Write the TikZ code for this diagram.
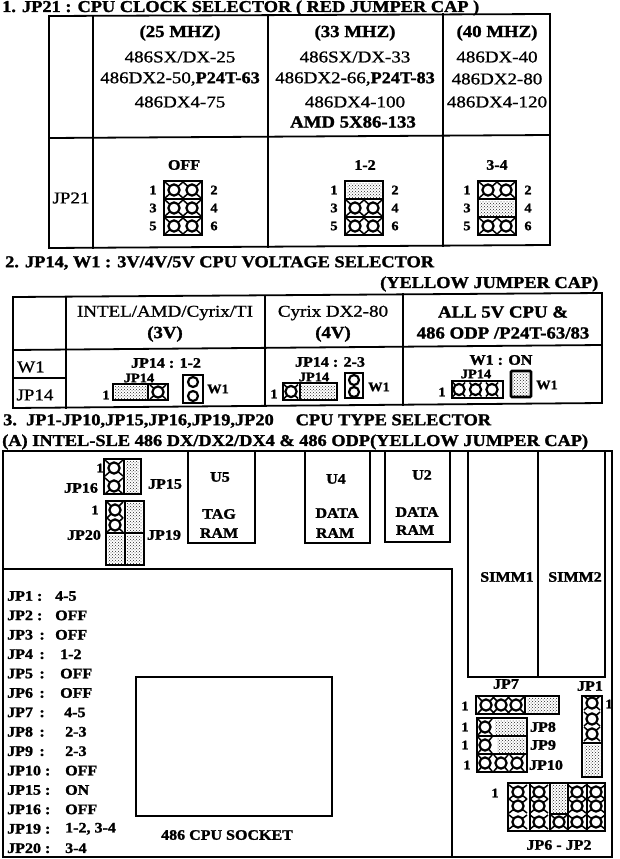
\documentclass[tikz,border=0pt]{standalone}
\usepackage{fontspec}
\usetikzlibrary{patterns}
\setmainfont{Liberation Serif}
\newfontfamily\hv[UprightFont=* Bold,FakeBold=1.5,FakeStretch=1.105]{Liberation Serif}
\newfontfamily\rg[FakeBold=1,FakeStretch=1.15]{Liberation Serif}
\tikzset{
  x=1pt,y=-1pt,
  rulestyle/.style={line width=1.8pt,black,line cap=rect},
  framestyle/.style={line width=2.2pt,black,line cap=rect},
  jbox/.style={line width=2.6pt,black},
  capfill/.style={pattern=crosshatch dots,pattern color=black!85},
  pincircle/.style={line width=2.2pt,draw=black,fill=white},
  headtext/.style={font=\hv\fontsize{16.6}{17}\selectfont,inner sep=0pt,anchor=west},
  celltext/.style={font=\rg\fontsize{16.5}{16.5}\selectfont,inner sep=0pt},
  boldcell/.style={font=\hv\fontsize{17}{17}\selectfont,inner sep=0pt},
  lab/.style={font=\hv\fontsize{14.5}{14.5}\selectfont,inner sep=0pt},
  pinno/.style={font=\hv\fontsize{13}{13}\selectfont,inner sep=0pt},
  smalltext/.style={font=\hv\fontsize{13}{13}\selectfont,inner sep=0pt},
  lst/.style={font=\hv\fontsize{14.5}{14.5}\selectfont,inner sep=0pt,anchor=west},
}
\newcommand{\onepin}[4]{%
  \draw[line width=1.5pt] (#1-#3,#2-#4)--(#1+#3,#2+#4) (#1-#3,#2+#4)--(#1+#3,#2-#4);
  \draw[pincircle] (#1,#2) circle[radius=5.6pt];}
\newcommand{\hdr}[3]{%
  \foreach \rr in {0,1,2}{%
    \pgfmathsetmacro{\ry}{#2+9+18*\rr}
    \ifnum\rr=#3\relax
      \draw[jbox,fill=white] (#1,\ry-9) rectangle (#1+38,\ry+9);
      \fill[capfill] (#1+2,\ry-7) rectangle (#1+36,\ry+7);
    \else
      \draw[jbox] (#1,\ry-9) rectangle (#1+38,\ry+9);
      \onepin{#1+10}{\ry}{9}{8}\onepin{#1+28}{\ry}{9}{8}
    \fi}%
  \node[pinno] at (#1-11,#2+9) {1};\node[pinno] at (#1+50,#2+9) {2};
  \node[pinno] at (#1-11,#2+27) {3};\node[pinno] at (#1+50,#2+27) {4};
  \node[pinno] at (#1-11,#2+45) {5};\node[pinno] at (#1+50,#2+45) {6};}
\begin{document}
\begin{tikzpicture}
\useasboundingbox (0,0) rectangle (620,859);
\fill[white] (0,0) rectangle (620,859);
% headings
\node[headtext] (h1) at (2,8) {1. JP21 : CPU CLOCK SELECTOR ( RED JUMPER CAP )};
\node[headtext] (h2) at (5,263) {2. JP14, W1 : 3V/4V/5V CPU VOLTAGE SELECTOR};
\node[headtext] (h2b) at (380,284) {(YELLOW JUMPER CAP)};
\node[headtext] (h3) at (3,421) {3.\ \ JP1-JP10,JP15,JP16,JP19,JP20\hspace{22pt}CPU TYPE SELECTOR};
\node[headtext] (h3b) at (2,442) {(A) INTEL-SLE 486 DX/DX2/DX4 \& 486 ODP(YELLOW JUMPER CAP)};
% table 1
\draw[rulestyle] (49,16)--(550,14)--(550,245)--(49,248)--cycle;
\draw[rulestyle] (49,138)--(550,135);
\draw[rulestyle] (93,16)--(93,248) (268,15)--(268,247) (443,14)--(443,246);
\foreach \n/\x/\a/\b/\c/\d in {
 a/180/{(25 MHZ)}/{486SX/DX-25}/{486DX2-50,{\hv P24T-63}}/{486DX4-75},
 b/355/{(33 MHZ)}/{486SX/DX-33}/{486DX2-66,{\hv P24T-83}}/{486DX4-100},
 c/497/{(40 MHZ)}/{486DX-40}/{486DX2-80}/{486DX4-120}}{
  \node[boldcell] (\n1) at (\x,33) {\a};
  \node[celltext] (\n2) at (\x,57) {\b};
  \node[celltext] (\n3) at (\x,79) {\c};
  \node[celltext] (\n4) at (\x,102) {\d};
}
\node[boldcell] (amd) at (353,122) {AMD 5X86-133};
\node[celltext] (jp21) at (71,198) {JP21};
\node[lab] (off) at (184,165) {OFF};
\node[lab] (t12) at (365,165) {1-2};
\node[lab] (t34) at (497,165) {3-4};
\hdr{164}{181}{9}
\hdr{345}{181}{0}
\hdr{478}{181}{1}
% table 2
\draw[rulestyle] (13,297)--(602,293)--(602,403)--(13,408)--cycle;
\draw[rulestyle] (13,350)--(602,345) (13,378)--(66,378);
\draw[rulestyle] (66,297)--(66,408) (265,296)--(265,406) (403,294)--(403,405);
\node[celltext] (c1) at (165,313) {INTEL/AMD/Cyrix/TI};
\node[boldcell] (c1b) at (165,334) {(3V)};
\node[celltext] (c2) at (333,313) {Cyrix DX2-80};
\node[boldcell] (c2b) at (333,334) {(4V)};
\node[boldcell] (c3) at (503,312) {ALL 5V CPU \&};
\node[boldcell] (c3b) at (503,333) {486 ODP /P24T-63/83};
\node[celltext] (w1) at (31,367) {W1};
\node[celltext] (jp14) at (35,395) {JP14};
\node[lab] (a1) at (166,363) {JP14 : 1-2};
\node[lab] (a2) at (330,362) {JP14 : 2-3};
\node[lab] (a3) at (501,360) {W1 : ON};
% JP14 1-2
\node[smalltext] (j1) at (139,378) {JP14};
\draw[jbox] (113,384) rectangle (168,400);
\fill[capfill] (115,386) rectangle (147,398);
\draw[jbox] (148,384)--(148,400);
\onepin{158}{392}{8}{7}
\node[pinno] (n1) at (106,395) {1};
\draw[jbox] (183,375) rectangle (203,403);
\draw[pincircle] (193,382) circle[radius=5pt];\draw[pincircle] (193,396) circle[radius=5pt];
\node[smalltext] (w1a) at (218,389) {W1};
% JP14 2-3
\node[smalltext] (j2) at (314,377) {JP14};
\draw[jbox] (283,383) rectangle (337,400);
\onepin{291}{391.5}{7}{7}
\fill[capfill] (301,385) rectangle (335,398);
\draw[jbox] (300,383)--(300,400);
\node[pinno] (n2) at (274,394) {1};
\draw[jbox] (345,373) rectangle (363,398);
\draw[pincircle] (354,380) circle[radius=5pt];\draw[pincircle] (354,392) circle[radius=5pt];
\node[smalltext] (w1b) at (379,387) {W1};
% JP14 W1 on
\node[smalltext] (j3) at (476,374) {JP14};
\draw[jbox] (452,381) rectangle (503,398);
\onepin{459}{389.5}{6}{7}\onepin{475.5}{389.5}{6}{7}\onepin{492}{389.5}{6}{7}
\node[pinno] (n3) at (442,392) {1};
\draw[jbox,rounded corners=1pt] (511,371) rectangle (531,397);
\fill[capfill] (513,373) rectangle (529,395);
\node[smalltext] (w1c) at (547,385) {W1};
% board outline
\draw[framestyle] (3,451)--(612,451)--(612,857)--(452,857)--(452,569)--(3,569);
\draw[rulestyle] (3,857)--(3,451);
\draw[rulestyle] (3,857)--(452,857);
\draw[framestyle] (188,451)--(188,543)--(255,543)--(255,451);
\draw[framestyle] (305,451)--(305,543)--(370,543)--(370,451);
\draw[framestyle] (385,451)--(385,542)--(450,542)--(450,451);
\draw[framestyle] (468,451)--(468,677)--(605,677)--(605,451);
\draw[framestyle] (538,451)--(538,677);
\draw[rulestyle] (136,677) rectangle (332,816);
\node[lab] (u5) at (220,477) {U5};
\node[lab] (tag) at (219,514) {TAG};
\node[lab] (tr) at (219,533) {RAM};
\node[lab] (u4) at (336,479) {U4};
\node[lab] (d4) at (337,513) {DATA};
\node[lab] (r4) at (335,533) {RAM};
\node[lab] (u2) at (422,475) {U2};
\node[lab] (d2) at (417,512) {DATA};
\node[lab] (r2) at (415,530) {RAM};
\node[lab] (s1) at (507,577) {SIMM1};
\node[lab] (s2) at (575,577) {SIMM2};
\node[lab] (sock) at (227,835) {486 CPU SOCKET};
% settings list
\foreach \i/\t/\vx/\v in {0/{JP1 :}/55/{4-5},1/{JP2 :}/55/{OFF},2/{JP3\, :}/55/{OFF},3/{JP4\, :}/60/{1-2},4/{JP5\, :}/60/{OFF},5/{JP6\, :}/60/{OFF},6/{JP7\, :}/64/{4-5},7/{JP8\, :}/65/{2-3},8/{JP9\, :}/65/{2-3},9/{JP10 :}/65/{OFF},10/{JP15 :}/65/{ON},11/{JP16 :}/65/{OFF},12/{JP19 :}/65/{1-2, 3-4},13/{JP20 :}/65/{3-4}}{
  \node[lst] (l\i) at (7,{596+19.4*\i}) {\t};
  \node[lst] (v\i) at (\vx,{596+19.4*\i}) {\v};
}
% JP16/JP15
\draw[jbox] (104,459) rectangle (141,494);
\draw[jbox] (124,459)--(124,494);
\onepin{114}{468}{9}{8}\onepin{114}{486}{9}{8}
\fill[capfill] (126,461) rectangle (139,492);
\node[pinno] (p1) at (100,468) {1};
\node[lab] (p16) at (81,488) {JP16};
\node[lab] (p15) at (165,484) {JP15};
% JP20/JP19
\draw[jbox] (106,501) rectangle (144,565);
\draw[jbox] (125,501)--(125,565) (106,533)--(144,533);
\onepin{115}{510}{8}{8}\onepin{115}{525}{8}{7}
\fill[capfill] (127,503) rectangle (142,531);
\fill[capfill] (108,535) rectangle (123,563);
\fill[capfill] (127,535) rectangle (142,563);
\node[pinno] (p2) at (95,510) {1};
\node[lab] (p20) at (84,535) {JP20};
\node[lab] (p19) at (164,535) {JP19};
% JP7
\node[lab] (j7) at (506,684) {JP7};
\draw[jbox] (476,696) rectangle (559,714);
\onepin{486}{705}{8}{8}\onepin{501}{705}{8}{8}\onepin{516}{705}{8}{8}
\draw[jbox] (525,696)--(525,714);
\fill[capfill] (527,698) rectangle (557,712);
\node[pinno] (q7) at (465,706) {1};
% JP8 JP9 JP10
\draw[jbox] (477,718) rectangle (527,772);
\draw[jbox] (477,736)--(527,736) (477,754)--(527,754);
\onepin{485}{727}{7}{8}\onepin{485}{745}{7}{8}
\onepin{485}{763}{7}{8}\onepin{501}{763}{7}{8}\onepin{517}{763}{7}{8}
\fill[capfill] (495,720) rectangle (525,734);
\fill[capfill] (497,738) rectangle (525,752);
\node[pinno] (q8) at (465,727) {1};
\node[pinno] (q9) at (465,745) {1};
\node[pinno] (q10) at (467,765) {1};
\node[lab] (j8) at (543,727) {JP8};
\node[lab] (j9) at (543,745) {JP9};
\node[lab] (j10) at (546,765) {JP10};
% JP1
\node[lab] (j1b) at (590,686) {JP1};
\draw[jbox] (582,696) rectangle (602,777);
\onepin{592}{703}{8}{7}\onepin{592}{719}{8}{7}\onepin{592}{734}{8}{7}
\draw[jbox] (582,743)--(602,743);
\fill[capfill] (584,745) rectangle (600,775);
\node[pinno] (q1) at (609,704) {1};
% JP6-JP2
\draw[jbox] (508,783) rectangle (605,831);
\foreach \x in {530,550,568,587}{
  \draw[jbox] (\x,783)--(\x,831);}
\foreach \x in {518,539,577,596}{
  \foreach \y in {792,806,822}{\onepin{\x}{\y}{9}{7}}}
\fill[capfill] (552,785) rectangle (566,812);
\draw[jbox] (550,814)--(568,814);
\onepin{559}{822}{8}{7}
\node[pinno] (q6) at (495,793) {1};
\node[lab] (jp62) at (559,845) {JP6 - JP2};
\end{tikzpicture}
\end{document}
